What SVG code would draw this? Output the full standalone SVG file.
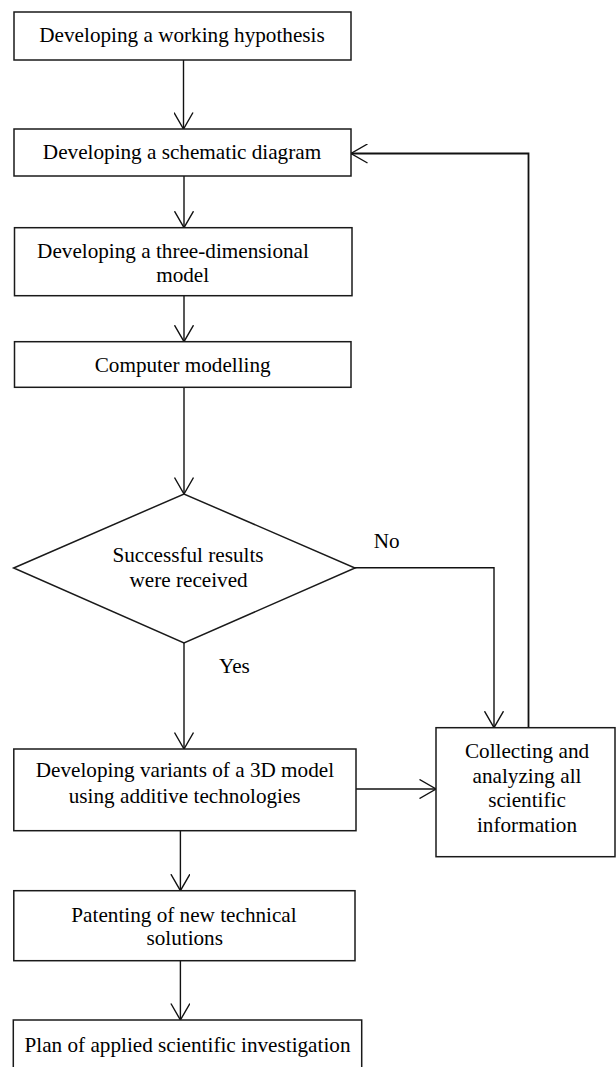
<svg xmlns="http://www.w3.org/2000/svg" width="616" height="1067" viewBox="0 0 616 1067">
<defs>
<marker id="arr" viewBox="0 0 18 20" markerWidth="18" markerHeight="20" refX="17" refY="10" orient="auto" markerUnits="userSpaceOnUse">
<path d="M0.5,0.5 L17,10 L0.5,19.5" fill="none" stroke="#111" stroke-width="1.4"/>
</marker>
<style>
.box{fill:#fff;stroke:#1a1a1a;stroke-width:1.5}
.t{font-family:'Liberation Serif','Times New Roman',Times,serif;font-size:21.2px;fill:#000;text-anchor:middle}
.c{fill:none;stroke:#111;stroke-width:1.4}
</style>
</defs>
<rect width="616" height="1067" fill="#fff"/>
<g id="connectors">
<path class="c" d="M183.5,60 V129" marker-end="url(#arr)"/>
<path class="c" d="M184,176 V227.7" marker-end="url(#arr)"/>
<path class="c" d="M184,295.7 V341.7" marker-end="url(#arr)"/>
<path class="c" d="M184,387.3 V494" marker-end="url(#arr)"/>
<path class="c" d="M184,643 V749" marker-end="url(#arr)"/>
<path class="c" d="M355,567.7 H494 V727.7" marker-end="url(#arr)"/>
<path class="c" d="M528.5,727.7 V153.5 H351" marker-end="url(#arr)" style="stroke-width:1.8"/>
<path class="c" d="M356,789 H436" marker-end="url(#arr)"/>
<path class="c" d="M180.4,830.7 V890.7" marker-end="url(#arr)"/>
<path class="c" d="M180.4,960.7 V1020" marker-end="url(#arr)"/>
<text class="t" x="386.6" y="547.7">No</text>
<text class="t" x="234.4" y="672.7">Yes</text>
</g>
<g id="n1">
<rect class="box" x="14" y="12" width="337" height="48"/>
<text class="t" x="182" y="41.7">Developing a working hypothesis</text>
</g>
<g id="n2">
<rect class="box" x="14" y="129" width="337" height="47"/>
<text class="t" x="182" y="159.3">Developing a schematic diagram</text>
</g>
<g id="n3">
<rect class="box" x="14.5" y="227.7" width="337.5" height="68"/>
<text class="t" x="173" y="258.3">Developing a three-dimensional</text>
<text class="t" x="182.7" y="281.7">model</text>
</g>
<g id="n4">
<rect class="box" x="14.5" y="341.7" width="336.5" height="45.6"/>
<text class="t" x="182.7" y="371.7">Computer modelling</text>
</g>
<g id="n5">
<polygon class="box" points="13.7,568 184,494 355,568 184,643"/>
<text class="t" x="188" y="562.3">Successful results</text>
<text class="t" x="188.6" y="586.7">were received</text>
</g>
<g id="n6">
<rect class="box" x="13.8" y="749" width="342.2" height="81.7"/>
<text class="t" x="184.9" y="777.3">Developing variants of a 3D model</text>
<text class="t" x="184.7" y="802.7">using additive technologies</text>
</g>
<g id="n7">
<rect class="box" x="436" y="727.7" width="179" height="129"/>
<text class="t" x="527" y="758.3">Collecting and</text>
<text class="t" x="527" y="783">analyzing all</text>
<text class="t" x="527" y="807">scientific</text>
<text class="t" x="527" y="831.7">information</text>
</g>
<g id="n8">
<rect class="box" x="13.8" y="890.7" width="341.2" height="70"/>
<text class="t" x="184" y="921.7">Patenting of new technical</text>
<text class="t" x="184.7" y="945">solutions</text>
</g>
<g id="n9">
<rect class="box" x="13.3" y="1020" width="348.4" height="60"/>
<text class="t" x="187.5" y="1051.7">Plan of applied scientific investigation</text>
</g>
</svg>
